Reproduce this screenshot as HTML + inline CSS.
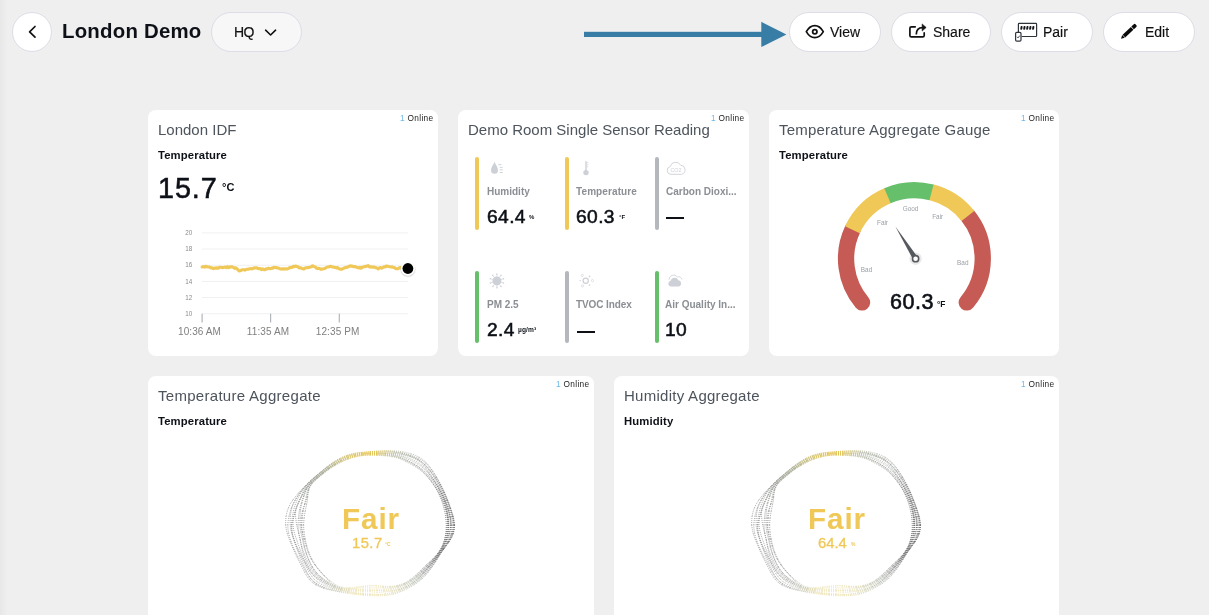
<!DOCTYPE html>
<html><head><meta charset="utf-8"><title>London Demo</title>
<style>
html,body{margin:0;padding:0}
body{width:1209px;height:615px;overflow:hidden;background:#efefef;font-family:"Liberation Sans",sans-serif;position:relative;color:#0d1117}
.abs,.t{position:absolute}
.t{white-space:nowrap;line-height:1;will-change:transform}
.card{position:absolute;background:#fff;border-radius:8px}
.btn{position:absolute;top:12px;height:38px;border:1px solid #dcdde6;border-radius:20px;background:#fff}
.btn .t{font-size:14px;top:12px;color:#111;-webkit-text-stroke:.15px #111}
.ttl{font-size:15px;color:#4e545c}
.sub{font-size:11.3px;font-weight:bold;color:#0d1117;letter-spacing:.13px}
.on{font-size:8.3px;color:#1c1c1c;letter-spacing:.33px}
.on i{font-style:normal;color:#6bb9ea;margin-right:2.6px}
.lbl{font-size:10px;font-weight:bold;color:#8b8e93}
.val{font-size:19.2px;color:#0d1117;-webkit-text-stroke:.55px #0d1117;letter-spacing:.4px}
.unit{font-size:6px;font-weight:bold;color:#0d1117}
.bar{position:absolute;width:4px;height:73px;border-radius:2px}
svg{position:absolute;left:0;top:0;overflow:visible;will-change:transform}
svg text{font-family:"Liberation Sans",sans-serif}
</style></head><body>

<div class="abs" style="left:0;top:0;width:8px;height:615px;background:linear-gradient(to right,rgba(0,0,0,.03),rgba(0,0,0,0))"></div>
<!-- cards -->
<div class="card" style="left:148px;top:110px;width:290px;height:246px"></div>
<div class="card" style="left:458px;top:110px;width:291px;height:246px"></div>
<div class="card" style="left:769px;top:110px;width:290px;height:246px"></div>
<div class="card" style="left:148px;top:376px;width:446px;height:260px"></div>
<div class="card" style="left:614px;top:376px;width:445px;height:260px"></div>

<!-- header -->
<div class="abs" style="left:12px;top:12px;width:38px;height:38px;border:1px solid #dcdde6;border-radius:50%;background:#fff"></div>
<div class="t" id="title" style="left:62.4px;top:21px;font-size:20.4px;font-weight:bold;letter-spacing:.22px;color:#0d1117">London Demo</div>
<div class="abs" style="left:211px;top:12px;width:89px;height:38px;border:1px solid #dcdde6;border-radius:20px;background:#f7f7f7"></div>
<div class="t" style="left:234.3px;top:25.4px;font-size:14px;color:#111;letter-spacing:-.6px;-webkit-text-stroke:.2px #111">HQ</div>

<div class="btn" style="left:789px;width:90px"><div class="t" style="left:40px">View</div></div>
<div class="btn" style="left:891px;width:98px"><div class="t" style="left:40.5px">Share</div></div>
<div class="btn" style="left:1001px;width:90px"><div class="t" style="left:40.7px">Pair</div></div>
<div class="btn" style="left:1103px;width:90px"><div class="t" style="left:40.6px">Edit</div></div>

<!-- card text -->
<div class="t ttl" style="left:158.2px;top:122.3px">London IDF</div>
<div class="t ttl" style="left:468.2px;top:122.3px">Demo Room Single Sensor Reading</div>
<div class="t ttl" style="left:779.2px;top:122.3px;letter-spacing:.21px">Temperature Aggregate Gauge</div>
<div class="t ttl" style="left:158.2px;top:388.3px;letter-spacing:.29px">Temperature Aggregate</div>
<div class="t ttl" style="left:624.2px;top:388.3px;letter-spacing:.27px">Humidity Aggregate</div>

<div class="t sub" style="left:158.2px;top:150.3px">Temperature</div>
<div class="t sub" style="left:779.2px;top:150.3px">Temperature</div>
<div class="t sub" style="left:158.2px;top:415.9px">Temperature</div>
<div class="t sub" style="left:624.2px;top:415.9px">Humidity</div>

<div class="t on" style="right:775.3px;top:114.3px"><i>1</i>Online</div>
<div class="t on" style="right:464.3px;top:114.3px"><i>1</i>Online</div>
<div class="t on" style="right:154.3px;top:114.3px"><i>1</i>Online</div>
<div class="t on" style="right:619.3px;top:380.3px"><i>1</i>Online</div>
<div class="t on" style="right:154.3px;top:380.3px"><i>1</i>Online</div>

<!-- card1 value -->
<div class="t" style="left:158.4px;top:174px;font-size:28.8px;letter-spacing:.9px;-webkit-text-stroke:.55px #0d1117">15.7</div>
<div class="t" style="left:221.6px;top:182.3px;font-size:11px;font-weight:bold">°C</div>

<!-- card2 sensors -->
<div class="bar" style="left:475px;top:157px;background:#efc857"></div>
<div class="bar" style="left:565px;top:157px;background:#efc857"></div>
<div class="bar" style="left:655px;top:157px;background:#b4b7bc"></div>
<div class="bar" style="left:475px;top:271px;height:72px;background:#65bf6b"></div>
<div class="bar" style="left:565px;top:271px;height:72px;background:#b4b7bc"></div>
<div class="bar" style="left:655px;top:271px;height:72px;background:#65bf6b"></div>

<div class="t lbl" style="left:486.6px;top:186.5px">Humidity</div>
<div class="t lbl" style="left:576.4px;top:186.5px;letter-spacing:.1px">Temperature</div>
<div class="t lbl" style="left:665.8px;top:186.5px">Carbon Dioxi...</div>
<div class="t lbl" style="left:486.6px;top:299.6px">PM 2.5</div>
<div class="t lbl" style="left:576.4px;top:299.6px;letter-spacing:-.1px">TVOC Index</div>
<div class="t lbl" style="left:665.4px;top:299.6px">Air Quality In...</div>

<div class="t val" style="left:486.8px;top:207px">64.4</div>
<div class="t val" style="left:576.4px;top:207px">60.3</div>
<div class="t val" style="left:486.8px;top:320px">2.4</div>
<div class="t val" style="left:665.4px;top:320px">10</div>
<div class="abs" style="left:666.3px;top:217px;width:18.2px;height:2px;background:#0d1117"></div>
<div class="abs" style="left:577px;top:330.5px;width:18.2px;height:2px;background:#0d1117;will-change:auto"></div>
<div class="t unit" style="left:529.2px;top:214.3px">%</div>
<div class="t unit" style="left:619.2px;top:214.3px">°F</div>
<div class="t unit" style="left:517.6px;top:327.2px;font-size:6.6px;letter-spacing:.1px">µg/m³</div>

<!-- gauge value -->
<div class="t" style="left:889.8px;top:292px;font-size:21.5px;letter-spacing:.5px;-webkit-text-stroke:.6px #0d1117">60.3</div>
<div class="t" style="left:937px;top:299.9px;font-size:8.4px;font-weight:bold">°F</div>

<!-- blob text -->
<div class="t" style="left:341.8px;top:504.2px;font-size:29.6px;font-weight:bold;color:#efc857;letter-spacing:.95px">Fair</div>
<div class="t" style="left:807.8px;top:504.2px;font-size:29.6px;font-weight:bold;color:#efc857;letter-spacing:.95px">Fair</div>
<div class="t" style="left:352.2px;top:536px;font-size:14.8px;letter-spacing:.45px;color:#efc857;-webkit-text-stroke:.3px #efc857">15.7</div>
<div class="t" style="left:818.2px;top:536px;font-size:14.8px;color:#efc857;-webkit-text-stroke:.3px #efc857">64.4</div>
<div class="t" style="left:385px;top:541.6px;font-size:5px;font-weight:bold;color:#efc857">°C</div>
<div class="t" style="left:851px;top:541.6px;font-size:5px;font-weight:bold;color:#efc857">%</div>

<svg width="1209" height="615" viewBox="0 0 1209 615">
<defs>
<linearGradient id="bg" gradientUnits="userSpaceOnUse" x1="0" y1="450" x2="0" y2="598">
<stop offset="0" stop-color="#e9c64f"/><stop offset=".1" stop-color="#cfc07a"/><stop offset=".25" stop-color="#8c8f8c"/><stop offset=".5" stop-color="#7d7d7d"/><stop offset=".78" stop-color="#9a9c98"/><stop offset=".92" stop-color="#e2d79b"/><stop offset="1" stop-color="#f0dc8a"/>
</linearGradient>
<g id="blob" fill="none" stroke-width="0.72" stroke-dasharray="1 1"><path stroke="#646464" d="M446.3 525.0L446.2 529.0L445.9 533.0M447.4 525.0L446.9 529.0L446.2 533.0M448.1 525.0L447.9 529.1L447.3 533.1M448.5 525.0L448.3 529.1L447.7 533.2M448.9 525.0L448.8 529.1L448.2 533.2M450.9 525.0L450.3 529.2L449.2 533.3M450.6 525.0L450.4 529.2L449.7 533.4M451.6 525.0L451.7 529.3L451.1 533.5M453.0 525.0L452.8 529.3L451.9 533.6M453.9 525.0L453.4 529.4L452.3 533.7M454.3 525.0L454.1 529.4L453.1 533.7M454.6 525.0L454.3 529.4L453.2 533.7"/><path stroke="#676767" d="M445.9 533.0L445.2 536.9L444.3 540.8M446.2 533.0L445.4 536.9L444.3 540.8M447.3 533.1L446.4 537.1L445.2 541.0M447.7 533.2L446.8 537.2L445.5 541.0M448.2 533.2L447.3 537.2L445.9 541.1M449.2 533.3L447.8 537.3L446.1 541.2M449.7 533.4L448.6 537.4L446.9 541.4M451.1 533.5L449.8 537.6L447.9 541.6M451.9 533.6L450.3 537.7L448.1 541.6M452.3 533.7L450.6 537.8L448.4 541.7M453.1 533.7L451.4 537.9L449.1 541.8M453.2 533.7L451.5 537.9L449.1 541.8"/><path stroke="#6a6a6a" d="M444.3 540.8L443.0 544.5L441.2 548.1M444.3 540.8L443.0 544.5L441.2 548.1M445.2 541.0L443.6 544.7L441.7 548.3M445.5 541.0L443.8 544.8L441.9 548.4M445.9 541.1L444.2 544.9L442.2 548.5M446.1 541.2L444.2 544.9L442.1 548.4M446.9 541.4L444.9 545.1L442.7 548.6M447.9 541.6L445.6 545.3L443.2 548.8M448.1 541.6L445.7 545.3L443.2 548.8M448.4 541.7L445.8 545.3L443.4 548.8M449.1 541.8L446.4 545.5L443.8 549.0M449.1 541.8L446.5 545.5L443.9 549.0"/><path stroke="#6c6c6c" d="M441.2 548.1L439.1 551.5L436.7 554.7M441.2 548.1L439.2 551.6L436.9 554.8M441.7 548.3L439.5 551.7L437.2 554.9M441.9 548.4L439.7 551.8L437.4 555.0M442.2 548.5L440.0 551.9L437.7 555.1M442.1 548.4L440.0 551.9L437.7 555.1M442.7 548.6L440.5 552.0L438.2 555.3M443.2 548.8L440.8 552.2L438.4 555.5M443.2 548.8L440.8 552.2L438.5 555.5M443.4 548.8L441.0 552.3L438.7 555.6M443.8 549.0L441.4 552.4L439.1 555.8M443.9 549.0L441.5 552.4L439.2 555.8"/><path stroke="#717171" d="M436.7 554.7L434.1 557.6L431.3 560.4M436.9 554.8L434.3 557.8L431.7 560.6M437.2 554.9L434.7 557.9L432.1 560.8M437.4 555.0L434.9 558.1L432.4 561.0M437.7 555.1L435.3 558.3L432.8 561.3M437.7 555.1L435.3 558.3L432.9 561.3M438.2 555.3L435.8 558.5L433.4 561.6M438.4 555.5L436.0 558.7L433.6 561.7M438.5 555.5L436.1 558.7L433.8 561.8M438.7 555.6L436.5 558.9L434.2 562.1M439.1 555.8L437.0 559.1L434.7 562.4M439.2 555.8L437.2 559.2L435.1 562.6"/><path stroke="#7a7c7a" d="M431.3 560.4L428.4 562.9L425.7 565.4M431.7 560.6L429.0 563.3L426.4 566.0M432.1 560.8L429.4 563.6L426.8 566.2M432.4 561.0L429.8 563.8L427.1 566.5M432.8 561.3L430.3 564.1L427.7 566.9M432.9 561.3L430.5 564.3L428.0 567.2M433.4 561.6L430.9 564.5L428.4 567.4M433.6 561.7L431.0 564.6L428.4 567.4M433.8 561.8L431.3 564.8L428.8 567.8M434.2 562.1L431.9 565.2L429.6 568.3M434.7 562.4L432.4 565.6L430.1 568.6M435.1 562.6L432.9 565.8L430.6 569.0"/><path stroke="#838683" d="M425.7 565.4L423.1 568.0L420.6 570.5M426.4 566.0L423.8 568.6L421.2 571.1M426.8 566.2L424.3 568.9L421.7 571.6M427.1 566.5L424.6 569.2L422.0 571.8M427.7 566.9L425.1 569.7L422.6 572.3M428.0 567.2L425.6 570.0L423.0 572.8M428.4 567.4L425.9 570.3L423.4 573.1M428.4 567.4L425.9 570.3L423.4 573.1M428.8 567.8L426.4 570.7L423.9 573.5M429.6 568.3L427.1 571.3L424.6 574.2M430.1 568.6L427.6 571.6L425.0 574.5M430.6 569.0L428.2 572.2L425.7 575.1"/><path stroke="#979b93" d="M420.6 570.5L418.0 573.0L415.4 575.4M421.2 571.1L418.6 573.6L415.9 575.9M421.7 571.6L419.1 574.1L416.4 576.5M422.0 571.8L419.4 574.4L416.6 576.7M422.6 572.3L419.9 574.9L417.1 577.3M423.0 572.8L420.4 575.4L417.6 577.8M423.4 573.1L420.8 575.8L418.1 578.4M423.4 573.1L420.9 575.9L418.2 578.5M423.9 573.5L421.3 576.3L418.5 578.9M424.6 574.2L421.9 576.9L419.1 579.5M425.0 574.5L422.3 577.3L419.5 580.0M425.7 575.1L423.0 578.0L420.1 580.6"/><path stroke="#acb1a5" d="M415.4 575.4L412.7 577.7L409.8 579.8M415.9 575.9L413.1 578.2L410.2 580.3M416.4 576.5L413.5 578.7L410.5 580.7M416.6 576.7L413.7 579.0L410.7 581.0M417.1 577.3L414.1 579.5L411.1 581.5M417.6 577.8L414.6 580.1L411.6 582.2M418.1 578.4L415.2 580.9L412.2 583.1M418.2 578.5L415.3 581.0L412.3 583.2M418.5 578.9L415.5 581.2L412.4 583.4M419.1 579.5L416.1 581.9L412.9 584.0M419.5 580.0L416.4 582.3L413.2 584.5M420.1 580.6L417.0 583.0L413.7 585.1"/><path stroke="#bfc3b1" d="M409.8 579.8L406.8 581.7L403.7 583.3M410.2 580.3L407.1 582.2L404.0 583.8M410.5 580.7L407.4 582.5L404.1 584.1M410.7 581.0L407.5 582.8L404.3 584.4M411.1 581.5L407.9 583.4L404.7 585.0M411.6 582.2L408.4 584.1L405.1 585.8M412.2 583.1L409.0 585.0L405.7 586.8M412.3 583.2L409.1 585.1L405.7 586.9M412.4 583.4L409.2 585.3L405.8 587.1M412.9 584.0L409.6 585.9L406.2 587.7M413.2 584.5L409.9 586.5L406.5 588.3M413.7 585.1L410.3 587.1L406.9 588.9"/><path stroke="#cdcdb2" d="M403.7 583.3L400.3 584.6L396.9 585.5M404.0 583.8L400.7 585.2L397.2 586.2M404.1 584.1L400.7 585.3L397.3 586.2M404.3 584.4L401.0 585.8L397.5 586.9M404.7 585.0L401.3 586.4L397.9 587.6M405.1 585.8L401.8 587.3L398.3 588.6M405.7 586.8L402.2 588.3L398.7 589.5M405.7 586.9L402.3 588.4L398.8 589.7M405.8 587.1L402.4 588.7L399.0 590.2M406.2 587.7L402.8 589.4L399.3 590.8M406.5 588.3L403.1 590.0L399.7 591.6M406.9 588.9L403.4 590.6L399.9 592.1"/><path stroke="#dbd7b3" d="M396.9 585.5L393.4 586.1L389.9 586.4M397.2 586.2L393.7 586.8L390.2 587.1M397.3 586.2L393.8 586.9L390.2 587.3M397.5 586.9L394.1 587.7L390.6 588.3M397.9 587.6L394.4 588.6L390.9 589.3M398.3 588.6L394.8 589.7L391.2 590.4M398.7 589.5L395.1 590.3L391.4 590.9M398.8 589.7L395.2 590.7L391.6 591.4M399.0 590.2L395.5 591.5L391.9 592.6M399.3 590.8L395.8 592.1L392.1 593.1M399.7 591.6L396.1 593.0L392.4 594.0M399.9 592.1L396.3 593.4L392.6 594.4"/><path stroke="#e4ddb3" d="M389.9 586.4L386.4 586.4L383.0 586.2M390.2 587.1L386.6 587.0L383.1 586.7M390.2 587.3L386.7 587.5L383.3 587.4M390.6 588.3L387.1 588.6L383.6 588.8M390.9 589.3L387.3 589.7L383.8 590.0M391.2 590.4L387.6 590.7L384.0 590.8M391.4 590.9L387.7 591.1L384.0 591.0M391.6 591.4L387.9 591.8L384.3 592.1M391.9 592.6L388.3 593.4L384.7 594.0M392.1 593.1L388.4 593.8L384.7 594.2M392.4 594.0L388.7 594.7L384.9 595.1M392.6 594.4L388.8 595.1L385.0 595.5"/><path stroke="#e9e0b1" d="M383.0 586.2L379.7 586.0L376.4 585.7M383.1 586.7L379.7 586.2L376.4 585.8M383.3 587.4L379.9 587.4L376.5 587.3M383.6 588.8L380.1 588.9L376.7 588.9M383.8 590.0L380.3 590.1L376.8 590.1M384.0 590.8L380.4 590.7L376.9 590.5M384.0 591.0L380.4 591.0L376.9 590.9M384.3 592.1L380.7 592.4L377.1 592.7M384.7 594.0L381.0 594.5L377.3 594.8M384.7 594.2L381.0 594.4L377.3 594.5M384.9 595.1L381.1 595.2L377.4 595.2M385.0 595.5L381.2 595.8L377.4 595.8"/><path stroke="#eee3af" d="M376.4 585.7L373.2 585.6L370.0 585.7M376.4 585.8L373.2 585.6L370.0 585.8M376.5 587.3L373.3 587.3L370.0 587.4M376.7 588.9L373.4 589.0L370.0 589.1M376.8 590.1L373.4 590.2L370.0 590.2M376.9 590.5L373.4 590.3L370.0 590.3M376.9 590.9L373.5 591.1L370.0 591.3M377.1 592.7L373.6 593.0L370.0 593.3M377.3 594.8L373.7 594.9L370.0 594.8M377.3 594.5L373.6 594.5L370.0 594.4M377.4 595.2L373.7 595.1L370.0 595.0M377.4 595.8L373.7 595.8L370.0 595.7"/><path stroke="#efe3ae" d="M370.0 585.7L366.8 585.9L363.6 586.1M370.0 585.8L366.8 586.1L363.5 586.6M370.0 587.4L366.7 587.6L363.4 587.8M370.0 589.1L366.6 589.2L363.3 589.2M370.0 590.2L366.6 590.1L363.2 590.0M370.0 590.3L366.6 590.3L363.1 590.3M370.0 591.3L366.5 591.6L363.0 591.7M370.0 593.3L366.4 593.4L362.8 593.4M370.0 594.8L366.4 594.5L362.7 594.1M370.0 594.4L366.4 594.3L362.7 594.0M370.0 595.0L366.3 594.8L362.7 594.6M370.0 595.7L366.3 595.5L362.6 595.2"/><path stroke="#ece2af" d="M363.6 586.1L360.3 586.5L356.8 586.9M363.5 586.6L360.1 587.3L356.6 588.0M363.4 587.8L360.0 588.0L356.6 588.3M363.3 589.2L359.8 589.3L356.3 589.4M363.2 590.0L359.7 590.0L356.2 589.9M363.1 590.3L359.6 590.5L356.1 590.6M363.0 591.7L359.4 591.8L355.8 591.6M362.8 593.4L359.2 593.2L355.6 592.8M362.7 594.1L359.1 593.5L355.6 593.0M362.7 594.0L359.1 593.8L355.5 593.4M362.7 594.6L359.0 594.4L355.3 594.0M362.6 595.2L358.9 594.9L355.2 594.4"/><path stroke="#e9e0b0" d="M356.8 586.9L353.3 587.3L349.7 587.6M356.6 588.0L353.0 588.5L349.3 588.8M356.6 588.3L353.0 588.5L349.3 588.6M356.3 589.4L352.7 589.4L349.1 589.3M356.2 589.9L352.6 589.8L349.0 589.7M356.1 590.6L352.4 590.6L348.7 590.5M355.8 591.6L352.2 591.3L348.6 590.9M355.6 592.8L352.0 592.3L348.3 591.7M355.6 593.0L352.0 592.4L348.3 591.8M355.5 593.4L351.8 593.0L348.1 592.5M355.3 594.0L351.6 593.6L347.9 593.1M355.2 594.4L351.5 593.9L347.8 593.2"/><path stroke="#ded8b0" d="M349.7 587.6L346.0 587.6L342.3 587.2M349.3 588.8L345.5 588.8L341.8 588.3M349.3 588.6L345.6 588.5L341.9 588.1M349.1 589.3L345.4 589.2L341.7 588.6M349.0 589.7L345.3 589.4L341.6 588.8M348.7 590.5L345.0 590.2L341.2 589.6M348.6 590.9L344.9 590.4L341.2 589.6M348.3 591.7L344.6 591.0L340.9 590.3M348.3 591.8L344.6 591.2L340.8 590.6M348.1 592.5L344.3 592.0L340.4 591.4M347.9 593.1L344.1 592.5L340.2 591.9M347.8 593.2L344.0 592.7L340.2 592.0"/><path stroke="#cac8af" d="M342.3 587.2L338.8 586.2L335.5 584.7M341.8 588.3L338.3 587.2L335.0 585.7M341.9 588.1L338.3 587.2L334.9 585.8M341.7 588.6L338.1 587.7L334.6 586.4M341.6 588.8L338.0 587.9L334.5 586.6M341.2 589.6L337.6 588.6L334.0 587.3M341.2 589.6L337.6 588.6L334.1 587.3M340.9 590.3L337.3 589.3L333.6 588.0M340.8 590.6L337.0 589.7L333.2 588.7M340.4 591.4L336.6 590.6L332.7 589.7M340.2 591.9L336.3 591.1L332.4 590.2M340.2 592.0L336.2 591.2L332.2 590.4"/><path stroke="#b6b9ac" d="M335.5 584.7L332.6 582.6L329.7 580.4M335.0 585.7L332.0 583.6L329.2 581.2M334.9 585.8L331.6 584.1L328.5 582.2M334.6 586.4L331.3 584.6L328.0 582.7M334.5 586.6L331.1 584.9L327.8 583.1M334.0 587.3L330.6 585.7L327.2 583.8M334.1 587.3L330.6 585.7L327.2 583.9M333.6 588.0L330.0 586.5L326.5 584.9M333.2 588.7L329.4 587.5L325.6 586.1M332.7 589.7L328.7 588.7L324.7 587.4M332.4 590.2L328.3 589.2L324.3 587.9M332.2 590.4L328.1 589.5L324.0 588.4"/><path stroke="#a2a59d" d="M329.7 580.4L327.0 578.0L324.5 575.6M329.2 581.2L326.6 578.6L324.1 575.9M328.5 582.2L325.3 580.1L322.3 578.0M328.0 582.7L324.9 580.7L321.9 578.4M327.8 583.1L324.6 581.1L321.4 578.9M327.2 583.8L324.0 581.8L320.8 579.7M327.2 583.9L323.8 582.1L320.3 580.2M326.5 584.9L323.0 583.0L319.6 581.0M325.6 586.1L321.9 584.5L318.2 582.5M324.7 587.4L320.7 585.8L317.0 583.9M324.3 587.9L320.4 586.3L316.6 584.3M324.0 588.4L319.9 586.9L315.9 585.0"/><path stroke="#8f928e" d="M324.5 575.6L321.9 573.1L319.6 570.4M324.1 575.9L321.7 573.3L319.4 570.6M322.3 578.0L319.4 575.6L316.8 572.9M321.9 578.4L319.1 575.9L316.5 573.2M321.4 578.9L318.5 576.5L315.7 573.9M320.8 579.7L317.7 577.3L314.9 574.6M320.3 580.2L317.0 578.0L314.0 575.4M319.6 581.0L316.5 578.5L313.6 575.8M318.2 582.5L315.0 580.0L312.3 577.0M317.0 583.9L313.6 581.4L310.8 578.3M316.6 584.3L313.3 581.7L310.4 578.6M315.9 585.0L312.4 582.6L309.4 579.6"/><path stroke="#8f918e" d="M319.6 570.4L317.3 567.7L315.3 564.8M319.4 570.6L317.1 567.8L314.9 565.0M316.8 572.9L314.4 570.0L312.4 566.9M316.5 573.2L314.2 570.2L312.2 567.0M315.7 573.9L313.3 570.9L311.1 567.8M314.9 574.6L312.3 571.7L310.0 568.6M314.0 575.4L311.3 572.5L309.0 569.3M313.6 575.8L311.1 572.7L309.0 569.3M312.3 577.0L309.9 573.7L307.9 570.1M310.8 578.3L308.4 574.9L306.4 571.2M310.4 578.6L308.0 575.2L305.9 571.6M309.4 579.6L306.8 576.1L304.7 572.4"/><path stroke="#8f918e" d="M315.3 564.8L313.4 561.8L311.7 558.7M314.9 565.0L312.9 562.1L311.1 559.0M312.4 566.9L310.6 563.6L309.0 560.2M312.2 567.0L310.4 563.7L308.8 560.3M311.1 567.8L309.2 564.5L307.4 561.1M310.0 568.6L308.0 565.3L306.2 561.8M309.0 569.3L307.0 565.9L305.3 562.4M309.0 569.3L307.0 565.9L305.1 562.5M307.9 570.1L306.1 566.5L304.3 562.9M306.4 571.2L304.7 567.4L303.0 563.7M305.9 571.6L303.9 567.9L302.0 564.3M304.7 572.4L302.8 568.6L300.9 564.9"/><path stroke="#8f908e" d="M311.7 558.7L310.2 555.5L308.8 552.2M311.1 559.0L309.5 555.8L308.2 552.5M309.0 560.2L307.6 556.8L306.4 553.3M308.8 560.3L307.4 556.9L306.1 553.5M307.4 561.1L305.8 557.7L304.4 554.2M306.2 561.8L304.7 558.3L303.4 554.6M305.3 562.4L303.6 558.8L302.2 555.2M305.1 562.5L303.2 559.0L301.4 555.6M304.3 562.9L302.5 559.4L300.8 555.8M303.0 563.7L301.4 560.0L299.8 556.2M302.0 564.3L300.1 560.6L298.1 557.0M300.9 564.9L299.0 561.2L297.2 557.4"/><path stroke="#8e908e" d="M308.8 552.2L307.6 548.9L306.7 545.6M308.2 552.5L307.0 549.2L306.0 545.8M306.4 553.3L305.4 549.8L304.5 546.3M306.1 553.5L305.0 550.0L304.0 546.4M304.4 554.2L303.1 550.7L301.9 547.1M303.4 554.6L302.4 551.0L301.6 547.2M302.2 555.2L300.8 551.6L299.5 547.9M301.4 555.6L299.5 552.0L297.8 548.5M300.8 555.8L299.0 552.2L297.4 548.6M299.8 556.2L298.3 552.5L296.9 548.8M298.1 557.0L296.2 553.3L294.4 549.6M297.2 557.4L295.3 553.7L293.6 549.8"/><path stroke="#8e8f8e" d="M306.7 545.6L305.9 542.2L305.2 538.8M306.0 545.8L305.1 542.4L304.3 539.0M304.5 546.3L303.9 542.7L303.3 539.2M304.0 546.4L303.2 542.9L302.5 539.4M301.9 547.1L301.0 543.5L300.2 539.8M301.6 547.2L300.9 543.5L300.3 539.8M299.5 547.9L298.2 544.2L296.9 540.5M297.8 548.5L296.1 544.8L294.6 541.0M297.4 548.6L295.9 544.9L294.5 541.1M296.9 548.8L295.5 545.0L294.2 541.1M294.4 549.6L292.7 545.7L291.2 541.7M293.6 549.8L291.9 545.9L290.3 541.9"/><path stroke="#8e8f8e" d="M305.2 538.8L304.5 535.4L304.0 531.9M304.3 539.0L303.4 535.6L302.4 532.1M303.3 539.2L302.7 535.7L302.2 532.1M302.5 539.4L301.6 535.8L300.9 532.3M300.2 539.8L299.3 536.2L298.7 532.5M300.3 539.8L299.5 536.2L298.5 532.5M296.9 540.5L295.6 536.8L294.4 532.9M294.6 541.0L293.3 537.2L292.3 533.2M294.5 541.1L293.2 537.2L292.2 533.2M294.2 541.1L292.9 537.2L291.7 533.2M291.2 541.7L289.8 537.7L288.7 533.5M290.3 541.9L288.7 537.9L287.3 533.7"/><path stroke="#8e8e8e" d="M304.0 531.9L303.7 528.5L303.6 525.0M302.4 532.1L301.6 528.6L301.1 525.0M302.2 532.1L301.9 528.6L301.8 525.0M300.9 532.3L300.3 528.7L300.0 525.0M298.7 532.5L298.2 528.8L298.0 525.0M298.5 532.5L297.6 528.8L296.7 525.0M294.4 532.9L293.5 529.0L293.0 525.0M292.3 533.2L291.8 529.1L291.9 525.0M292.2 533.2L291.6 529.1L291.5 525.0M291.7 533.2L290.7 529.2L290.2 525.0M288.7 533.5L288.0 529.3L287.8 525.0M287.3 533.7L286.3 529.4L285.7 525.0"/><path stroke="#8e8e8d" d="M303.6 525.0L303.8 521.5L304.1 518.1M301.1 525.0L301.0 521.4L301.2 517.8M301.8 525.0L302.0 521.4L302.3 517.9M300.0 525.0L299.9 521.3L300.0 517.6M298.0 525.0L298.2 521.2L298.5 517.5M296.7 525.0L296.1 521.1L295.6 517.2M293.0 525.0L293.1 521.0L293.6 517.0M291.9 525.0L292.6 520.9L293.7 517.0M291.5 525.0L291.8 520.9L292.3 516.8M290.2 525.0L290.1 520.8L290.3 516.6M287.8 525.0L288.2 520.7L288.9 516.5M285.7 525.0L285.7 520.6L286.1 516.2"/><path stroke="#8d8e8c" d="M304.1 518.1L304.6 514.6L305.2 511.2M301.2 517.8L301.7 514.2L302.5 510.7M302.3 517.9L302.7 514.3L303.2 510.8M300.0 517.6L300.1 513.9L300.5 510.2M298.5 517.5L298.9 513.7L299.5 510.0M295.6 517.2L295.5 513.2L295.9 509.2M293.6 517.0L294.5 513.0L295.7 509.2M293.7 517.0L294.8 513.1L296.1 509.3M292.3 516.8L293.1 512.8L294.0 508.8M290.3 516.6L290.8 512.5L291.7 508.4M288.9 516.5L289.9 512.3L291.2 508.2M286.1 516.2L287.0 511.9L288.5 507.7"/><path stroke="#8c8e8b" d="M305.2 511.2L305.9 507.8L306.6 504.4M302.5 510.7L303.7 507.2L305.0 503.9M303.2 510.8L303.9 507.3L304.7 503.8M300.5 510.2L301.1 506.5L302.0 502.9M299.5 510.0L300.4 506.4L301.4 502.7M295.9 509.2L296.9 505.4L298.5 501.8M295.7 509.2L297.3 505.5L299.0 501.9M296.1 509.3L297.5 505.6L298.9 501.9M294.0 508.8L295.2 504.9L296.6 501.2M291.7 508.4L293.1 504.4L295.0 500.6M291.2 508.2L292.9 504.3L294.8 500.6M288.5 507.7L290.5 503.7L292.9 499.9"/><path stroke="#8b8f89" d="M306.6 504.4L307.3 500.9L307.7 497.3M305.0 503.9L306.2 500.5L307.2 497.0M304.7 503.8L305.5 500.3L306.3 496.6M302.0 502.9L303.0 499.3L304.2 495.7M301.4 502.7L302.6 499.1L303.8 495.5M298.5 501.8L300.4 498.3L302.4 494.9M299.0 501.9L300.8 498.4L302.5 495.0M298.9 501.9L300.3 498.3L301.8 494.7M296.6 501.2L298.3 497.5L300.2 493.9M295.0 500.6L297.1 497.0L299.5 493.6M294.8 500.6L297.0 497.0L299.3 493.5M292.9 499.9L295.6 496.4L298.4 493.1"/><path stroke="#8b8f88" d="M307.7 497.3L308.0 493.4L308.8 489.7M307.2 497.0L307.8 493.3L308.7 489.6M306.3 496.6L306.9 492.9L308.1 489.2M304.2 495.7L305.4 492.1L307.0 488.6M303.8 495.5L305.1 491.9L306.8 488.5M302.4 494.9L304.3 491.5L306.4 488.3M302.5 495.0L304.2 491.5L306.1 488.1M301.8 494.7L303.5 491.1L305.5 487.7M300.2 493.9L302.4 490.6L304.8 487.4M299.5 493.6L302.0 490.3L304.6 487.2M299.3 493.5L301.7 490.2L304.3 487.1M298.4 493.1L301.3 490.0L304.2 487.0"/><path stroke="#8b9087" d="M308.8 489.7L310.2 486.2L312.4 483.1M308.7 489.6L310.2 486.1L312.3 483.1M308.1 489.2L309.7 485.8L312.0 482.8M307.0 488.6L309.0 485.4L311.5 482.5M306.8 488.5L308.8 485.3L311.3 482.3M306.4 488.3L308.7 485.2L311.2 482.3M306.1 488.1L308.4 485.0L310.9 482.1M305.5 487.7L307.8 484.6L310.5 481.7M304.8 487.4L307.4 484.4L310.2 481.5M304.6 487.2L307.3 484.3L310.1 481.5M304.3 487.1L307.1 484.1L309.9 481.3M304.2 487.0L307.1 484.1L309.9 481.4"/><path stroke="#939789" d="M312.4 483.1L315.1 480.5L317.9 478.1M312.3 483.1L315.0 480.4L317.7 477.9M312.0 482.8L314.7 480.2L317.5 477.7M311.5 482.5L314.3 479.9L317.2 477.5M311.3 482.3L314.1 479.7L317.0 477.3M311.2 482.3L314.1 479.7L316.9 477.2M310.9 482.1L313.8 479.5L316.7 477.0M310.5 481.7L313.3 479.1L316.2 476.6M310.2 481.5L313.1 478.9L316.0 476.4M310.1 481.5L313.0 478.8L315.9 476.3M309.9 481.3L312.8 478.7L315.7 476.1M309.9 481.4L312.9 478.7L315.8 476.2"/><path stroke="#9a9e8a" d="M317.9 478.1L320.8 475.8L323.6 473.5M317.7 477.9L320.5 475.5L323.3 473.2M317.5 477.7L320.3 475.3L323.2 473.0M317.2 477.5L320.1 475.1L323.1 472.9M317.0 477.3L319.9 474.9L322.8 472.6M316.9 477.2L319.8 474.8L322.7 472.5M316.7 477.0L319.6 474.6L322.6 472.3M316.2 476.6L319.2 474.2L322.2 471.9M316.0 476.4L319.0 474.0L321.9 471.6M315.9 476.3L318.9 473.9L321.8 471.5M315.7 476.1L318.6 473.6L321.6 471.2M315.8 476.2L318.7 473.7L321.6 471.3"/><path stroke="#a2a58c" d="M323.6 473.5L326.5 471.2L329.4 469.1M323.3 473.2L326.2 470.9L329.1 468.7M323.2 473.0L326.0 470.6L328.9 468.4M323.1 472.9L326.0 470.6L329.0 468.5M322.8 472.6L325.7 470.3L328.7 468.1M322.7 472.5L325.6 470.1L328.5 467.9M322.6 472.3L325.5 470.0L328.5 467.9M322.2 471.9L325.1 469.6L328.1 467.4M321.9 471.6L324.8 469.2L327.8 467.0M321.8 471.5L324.7 469.1L327.7 466.8M321.6 471.2L324.5 468.8L327.5 466.5M321.6 471.3L324.5 468.8L327.5 466.4"/><path stroke="#afad84" d="M329.4 469.1L332.4 467.1L335.5 465.2M329.1 468.7L332.2 466.7L335.3 464.9M328.9 468.4L331.9 466.3L335.0 464.3M329.0 468.5L332.0 466.5L335.1 464.6M328.7 468.1L331.7 466.1L334.9 464.1M328.5 467.9L331.6 465.8L334.7 463.9M328.5 467.9L331.5 465.8L334.7 463.8M328.1 467.4L331.2 465.3L334.4 463.3M327.8 467.0L330.9 464.8L334.1 462.8M327.7 466.8L330.8 464.6L333.9 462.5M327.5 466.5L330.6 464.3L333.8 462.3M327.5 466.4L330.5 464.2L333.6 462.0"/><path stroke="#beb67b" d="M335.5 465.2L338.6 463.4L341.8 461.7M335.3 464.9L338.5 463.2L341.8 461.6M335.0 464.3L338.1 462.5L341.4 460.7M335.1 464.6L338.3 462.8L341.5 461.0M334.9 464.1L338.0 462.3L341.3 460.6M334.7 463.9L337.9 462.0L341.2 460.3M334.7 463.8L337.8 461.9L341.1 460.0M334.4 463.3L337.5 461.3L340.8 459.5M334.1 462.8L337.3 460.8L340.6 459.1M333.9 462.5L337.2 460.6L340.5 458.8M333.8 462.3L337.0 460.3L340.4 458.5M333.6 462.0L336.9 460.0L340.2 458.1"/><path stroke="#cdbf72" d="M341.8 461.7L345.1 460.2L348.5 458.9M341.8 461.6L345.1 460.2L348.5 458.9M341.4 460.7L344.7 459.2L348.2 457.9M341.5 461.0L344.8 459.4L348.2 458.0M341.3 460.6L344.7 459.0L348.1 457.6M341.2 460.3L344.5 458.7L348.0 457.3M341.1 460.0L344.4 458.3L347.8 456.8M340.8 459.5L344.2 457.8L347.7 456.4M340.6 459.1L344.1 457.5L347.6 456.2M340.5 458.8L344.0 457.1L347.5 455.7M340.4 458.5L343.9 456.9L347.4 455.5M340.2 458.1L343.7 456.4L347.3 455.1"/><path stroke="#d8c162" d="M348.5 458.9L352.0 457.7L355.5 456.8M348.5 458.9L352.0 457.7L355.5 456.7M348.2 457.9L351.7 456.8L355.3 456.0M348.2 458.0L351.7 456.8L355.3 455.8M348.1 457.6L351.6 456.5L355.2 455.6M348.0 457.3L351.6 456.2L355.2 455.2M347.8 456.8L351.4 455.6L355.1 454.7M347.7 456.4L351.3 455.2L355.0 454.4M347.6 456.2L351.3 455.2L355.0 454.4M347.5 455.7L351.2 454.7L354.9 453.8M347.4 455.5L351.1 454.3L354.8 453.5M347.3 455.1L351.0 454.0L354.7 453.2"/><path stroke="#e2c252" d="M355.5 456.8L359.1 456.1L362.7 455.6M355.5 456.7L359.1 455.9L362.7 455.3M355.3 456.0L359.0 455.4L362.6 455.0M355.3 455.8L358.9 455.1L362.6 454.5M355.2 455.6L358.9 454.9L362.6 454.4M355.2 455.2L358.8 454.5L362.5 454.0M355.1 454.7L358.8 454.0L362.5 453.6M355.0 454.4L358.7 453.8L362.5 453.5M355.0 454.4L358.7 453.9L362.5 453.5M354.9 453.8L358.6 453.2L362.4 452.8M354.8 453.5L358.6 452.9L362.4 452.4M354.7 453.2L358.5 452.7L362.4 452.3"/><path stroke="#e4c24f" d="M362.7 455.6L366.3 455.3L370.0 455.2M362.7 455.3L366.3 454.9L370.0 454.7M362.6 455.0L366.3 454.8L370.0 454.6M362.6 454.5L366.3 454.2L370.0 453.9M362.6 454.4L366.3 454.0L370.0 453.8M362.5 454.0L366.3 453.6L370.0 453.4M362.5 453.6L366.2 453.3L370.0 453.1M362.5 453.5L366.2 453.2L370.0 453.1M362.5 453.5L366.2 453.2L370.0 452.9M362.4 452.8L366.2 452.5L370.0 452.2M362.4 452.4L366.2 452.1L370.0 451.7M362.4 452.3L366.2 451.9L370.0 451.6"/><path stroke="#e1c254" d="M370.0 455.2L373.7 455.2L377.3 455.3M370.0 454.7L373.7 454.6L377.4 454.7M370.0 454.6L373.7 454.7L377.4 454.8M370.0 453.9L373.7 453.8L377.5 453.9M370.0 453.8L373.7 453.7L377.5 453.7M370.0 453.4L373.8 453.3L377.5 453.2M370.0 453.1L373.8 453.0L377.6 453.1M370.0 453.1L373.8 453.0L377.6 453.0M370.0 452.9L373.8 452.7L377.6 452.5M370.0 452.2L373.8 452.0L377.7 451.8M370.0 451.7L373.9 451.5L377.7 451.3M370.0 451.6L373.9 451.4L377.8 451.1"/><path stroke="#d2c06f" d="M377.3 455.3L381.0 455.5L384.7 455.8M377.4 454.7L381.1 454.8L384.9 455.1M377.4 454.8L381.1 454.9L384.8 455.1M377.5 453.9L381.3 454.0L385.0 454.2M377.5 453.7L381.3 453.8L385.1 453.9M377.5 453.2L381.4 453.3L385.2 453.4M377.6 453.1L381.4 453.1L385.3 453.2M377.6 453.0L381.4 453.0L385.3 453.0M377.6 452.5L381.5 452.3L385.5 452.2M377.7 451.8L381.6 451.7L385.6 451.6M377.7 451.3L381.7 451.1L385.7 451.1M377.8 451.1L381.7 450.9L385.8 450.7"/><path stroke="#c2bb88" d="M384.7 455.8L388.4 456.2L392.2 456.7M384.9 455.1L388.6 455.5L392.4 456.1M384.8 455.1L388.6 455.5L392.5 455.9M385.0 454.2L388.9 454.6L392.7 455.2M385.1 453.9L389.0 454.2L392.9 454.7M385.2 453.4L389.1 453.7L393.0 454.1M385.3 453.2L389.2 453.3L393.2 453.5M385.3 453.0L389.3 453.1L393.3 453.3M385.5 452.2L389.5 452.2L393.6 452.4M385.6 451.6L389.6 451.8L393.7 452.1M385.7 451.1L389.8 451.3L393.9 451.6M385.8 450.7L389.9 450.7L394.1 450.9"/><path stroke="#b1b49f" d="M392.2 456.7L395.9 457.5L399.6 458.6M392.4 456.1L396.1 456.9L399.8 458.0M392.5 455.9L396.3 456.6L400.0 457.6M392.7 455.2L396.5 456.0L400.2 457.2M392.9 454.7L396.7 455.4L400.6 456.4M393.0 454.1L397.0 454.8L400.9 455.7M393.2 453.5L397.3 453.9L401.4 454.6M393.3 453.3L397.4 453.6L401.5 454.2M393.6 452.4L397.7 452.7L401.9 453.4M393.7 452.1L397.8 452.6L401.9 453.3M393.9 451.6L398.0 452.1L402.1 452.8M394.1 450.9L398.3 451.2L402.6 451.8"/><path stroke="#a9aea0" d="M399.6 458.6L403.1 460.1L406.5 461.8M399.8 458.0L403.4 459.4L406.9 461.1M400.0 457.6L403.7 458.9L407.3 460.5M400.2 457.2L403.8 458.7L407.3 460.4M400.6 456.4L404.3 457.6L408.0 459.2M400.9 455.7L404.8 456.8L408.6 458.1M401.4 454.6L405.4 455.4L409.5 456.6M401.5 454.2L405.6 455.1L409.7 456.2M401.9 453.4L406.0 454.4L410.0 455.7M401.9 453.3L406.0 454.4L410.0 455.7M402.1 452.8L406.3 453.8L410.4 455.0M402.6 451.8L406.8 452.7L411.1 453.8"/><path stroke="#a3a89d" d="M406.5 461.8L409.9 463.6L413.3 465.5M406.9 461.1L410.4 462.8L413.8 464.7M407.3 460.5L410.8 462.2L414.2 464.1M407.3 460.4L410.8 462.2L414.2 464.2M408.0 459.2L411.7 460.8L415.3 462.7M408.6 458.1L412.4 459.7L416.2 461.5M409.5 456.6L413.5 458.1L417.2 460.0M409.7 456.2L413.7 457.6L417.6 459.5M410.0 455.7L413.9 457.4L417.7 459.3M410.0 455.7L414.0 457.3L417.8 459.2M410.4 455.0L414.5 456.4L418.5 458.2M411.1 453.8L415.3 455.3L419.2 457.2"/><path stroke="#9da19a" d="M413.3 465.5L416.6 467.5L419.8 469.7M413.8 464.7L417.1 466.8L420.3 469.2M414.2 464.1L417.6 466.2L420.8 468.6M414.2 464.2L417.6 466.2L420.9 468.4M415.3 462.7L418.8 464.7L422.1 467.1M416.2 461.5L419.7 463.7L422.9 466.3M417.2 460.0L420.7 462.4L423.7 465.3M417.6 459.5L421.2 461.8L424.4 464.6M417.7 459.3L421.3 461.7L424.5 464.4M417.8 459.2L421.4 461.5L424.7 464.2M418.5 458.2L422.3 460.4L425.7 463.1M419.2 457.2L422.9 459.7L426.2 462.6"/><path stroke="#979b97" d="M419.8 469.7L422.8 472.2L425.7 474.9M420.3 469.2L423.1 471.9L425.8 474.7M420.8 468.6L423.7 471.3L426.5 474.1M420.9 468.4L424.1 470.9L427.0 473.7M422.1 467.1L425.2 469.8L428.0 472.8M422.9 466.3L425.7 469.3L428.3 472.5M423.7 465.3L426.4 468.6L428.9 472.0M424.4 464.6L427.2 467.8L429.9 471.1M424.5 464.4L427.4 467.6L430.2 470.8M424.7 464.2L427.7 467.3L430.4 470.6M425.7 463.1L428.7 466.3L431.4 469.7M426.2 462.6L429.1 465.9L431.7 469.5"/><path stroke="#8e918e" d="M425.7 474.9L428.3 477.8L430.8 480.8M425.8 474.7L428.4 477.7L430.8 480.8M426.5 474.1L429.1 477.1L431.6 480.2M427.0 473.7L429.8 476.6L432.4 479.6M428.0 472.8L430.7 475.9L433.1 479.1M428.3 472.5L430.7 475.9L433.0 479.3M428.9 472.0L431.2 475.4L433.5 478.9M429.9 471.1L432.3 474.5L434.6 478.1M430.2 470.8L432.7 474.2L435.1 477.7M430.4 470.6L433.0 474.0L435.4 477.5M431.4 469.7L433.9 473.3L436.2 476.9M431.7 469.5L434.1 473.1L436.4 476.8"/><path stroke="#858785" d="M430.8 480.8L433.1 484.0L435.3 487.3M430.8 480.8L433.1 484.0L435.3 487.3M431.6 480.2L434.0 483.5L436.1 486.8M432.4 479.6L434.9 482.9L437.1 486.2M433.1 479.1L435.5 482.5L437.6 486.0M433.0 479.3L435.2 482.7L437.3 486.1M433.5 478.9L435.7 482.3L437.8 485.8M434.6 478.1L436.8 481.6L438.8 485.3M435.1 477.7L437.3 481.3L439.4 484.9M435.4 477.5L437.7 481.1L439.8 484.7M436.2 476.9L438.3 480.6L440.3 484.4M436.4 476.8L438.5 480.5L440.6 484.2"/><path stroke="#7c7c7c" d="M435.3 487.3L437.2 490.7L439.0 494.3M435.3 487.3L437.5 490.6L439.4 494.1M436.1 486.8L438.2 490.3L440.0 493.8M437.1 486.2L439.2 489.7L441.0 493.4M437.6 486.0L439.5 489.6L441.3 493.3M437.3 486.1L439.3 489.7L441.3 493.3M437.8 485.8L439.8 489.4L441.7 493.1M438.8 485.3L440.7 489.0L442.4 492.8M439.4 484.9L441.4 488.6L443.1 492.4M439.8 484.7L441.8 488.4L443.7 492.2M440.3 484.4L442.2 488.2L443.9 492.1M440.6 484.2L442.5 488.1L444.3 491.9"/><path stroke="#737373" d="M439.0 494.3L440.6 497.9L442.0 501.6M439.4 494.1L441.2 497.7L442.9 501.3M440.0 493.8L441.7 497.5L443.2 501.2M441.0 493.4L442.7 497.1L444.2 500.9M441.3 493.3L442.9 497.0L444.3 500.9M441.3 493.3L443.2 496.9L444.9 500.7M441.7 493.1L443.5 496.8L445.0 500.6M442.4 492.8L443.9 496.6L445.4 500.5M443.1 492.4L444.8 496.3L446.3 500.2M443.7 492.2L445.5 496.0L447.1 499.9M443.9 492.1L445.6 496.0L447.1 499.9M444.3 491.9L446.0 495.8L447.6 499.8"/><path stroke="#6f6f6f" d="M442.0 501.6L443.2 505.4L444.2 509.2M442.9 501.3L444.3 505.1L445.6 508.9M443.2 501.2L444.6 505.0L445.7 508.9M444.2 500.9L445.4 504.8L446.5 508.7M444.3 500.9L445.5 504.8L446.6 508.7M444.9 500.7L446.5 504.5L448.0 508.4M445.0 500.6L446.5 504.5L447.7 508.5M445.4 500.5L446.7 504.5L447.9 508.4M446.3 500.2L447.7 504.2L449.0 508.2M447.1 499.9L448.7 503.9L450.1 508.0M447.1 499.9L448.6 503.9L450.0 508.0M447.6 499.8L449.1 503.8L450.5 507.9"/><path stroke="#6a6a6a" d="M444.2 509.2L445.1 513.1L445.7 517.0M445.6 508.9L446.6 512.9L447.2 516.9M445.7 508.9L446.7 512.9L447.5 516.9M446.5 508.7L447.4 512.7L448.0 516.8M446.6 508.7L447.5 512.7L448.2 516.8M448.0 508.4L449.3 512.4L450.3 516.6M447.7 508.5L448.8 512.5L449.7 516.6M447.9 508.4L449.1 512.5L450.1 516.6M449.0 508.2L450.3 512.3L451.5 516.4M450.1 508.0L451.5 512.1L452.7 516.3M450.0 508.0L451.4 512.1L452.6 516.3M450.5 507.9L451.9 512.0L453.2 516.3"/><path stroke="#656565" d="M445.7 517.0L446.1 521.0L446.3 525.0M447.2 516.9L447.5 520.9L447.4 525.0M447.5 516.9L447.9 520.9L448.1 525.0M448.0 516.8L448.4 520.9L448.5 525.0M448.2 516.8L448.7 520.9L448.9 525.0M450.3 516.6L450.8 520.8L450.9 525.0M449.7 516.6L450.3 520.8L450.6 525.0M450.1 516.6L451.0 520.8L451.6 525.0M451.5 516.4L452.4 520.7L453.0 525.0M452.7 516.3L453.5 520.6L453.9 525.0M452.6 516.3L453.6 520.6L454.3 525.0M453.2 516.3L454.1 520.6L454.6 525.0"/></g>
</defs>

<!-- back chevron -->
<path d="M35 26.5L29.6 31.8L35 37.1" fill="none" stroke="#111" stroke-width="1.7" stroke-linecap="round" stroke-linejoin="round"/>
<!-- HQ chevron -->
<path d="M265.6 30.2L270.6 35L275.6 30.2" fill="none" stroke="#111" stroke-width="1.6" stroke-linecap="round" stroke-linejoin="round"/>
<!-- arrow -->
<rect x="584" y="31.8" width="179" height="5.2" fill="#377da6"/>
<path d="M761.3 21.8L786.4 34.4L761.3 47Z" fill="#377da6"/>

<!-- eye -->
<g fill="none" stroke="#111" stroke-width="1.7" stroke-linejoin="round">
<path d="M806.3 31.7C809 27 812 25.7 814.8 25.7C817.600 25.7 820.6 27 823.3 31.7C820.6 36.4 817.6 37.7 814.8 37.7C812 37.7 809 36.4 806.3 31.7Z"/>
<circle cx="814.8" cy="31.7" r="2.15" stroke-width="1.8"/>
</g>
<!-- share -->
<g fill="none" stroke="#111" stroke-width="1.7" stroke-linecap="round">
<path d="M915.2 26.8H911.4Q909.9 26.8 909.9 28.3V35.4Q909.9 36.9 911.4 36.9H922.7Q924.2 36.9 924.2 35.4V32.9"/>
<path d="M916.3 34.5C916.3 30.5 918.5 27.700 922.6 27.700" stroke-linecap="butt"/>
</g>
<path d="M922.1 23.9L926.2 27.5L922.1 31.1Z" fill="#111" stroke="#111" stroke-width=".5" stroke-linejoin="round"/>
<!-- pair -->
<g fill="none" stroke="#2f343a" stroke-width="1.2">
<path d="M1018.4 32.2V24.2Q1018.4 23.4 1019.2 23.4H1035.8Q1036.600 23.4 1036.600 24.2V35.7Q1036.600 36.5 1035.8 36.5H1021.6"/>
<rect x="1015.6" y="32.4" width="5.4" height="8.8" rx="1.2"/>
<path d="M1017 36.8L1018 37.9L1019.800 35.600" stroke-width="0.9"/>
</g>
<g fill="#15181c"><rect x="1020.40" y="26.1" width="2" height="3.6" rx=".8" transform="skewX(-8)" style="transform-origin:1021.40px 28px"/><rect x="1023.35" y="26.1" width="2" height="3.6" rx=".8" transform="skewX(-8)" style="transform-origin:1024.35px 28px"/><rect x="1026.30" y="26.1" width="2" height="3.6" rx=".8" transform="skewX(-8)" style="transform-origin:1027.30px 28px"/><rect x="1029.25" y="26.1" width="2" height="3.6" rx=".8" transform="skewX(-8)" style="transform-origin:1030.25px 28px"/><rect x="1032.20" y="26.1" width="2" height="3.6" rx=".8" transform="skewX(-8)" style="transform-origin:1033.20px 28px"/></g>
<!-- edit pencil -->
<g transform="translate(1121 38.8) rotate(-43.2)" fill="#0a0a0a"><path d="M0 0L3.4 -1.85V1.85Z"/><rect x="4" y="-1.85" width="11.300" height="3.700"/><path d="M15.9 -1.85H19.300Q20.5 -1.85 20.5 -.65V.65Q20.5 1.85 19.300 1.85H15.9Z"/></g>

<!-- line chart -->
<rect x="202" y="232.4" width="206" height="1" fill="#f0f0f0"/><rect x="202" y="248.55" width="206" height="1" fill="#f0f0f0"/><rect x="202" y="264.7" width="206" height="1" fill="#f0f0f0"/><rect x="202" y="280.9" width="206" height="1" fill="#f0f0f0"/><rect x="202" y="297.05" width="206" height="1" fill="#f0f0f0"/><rect x="202" y="313.2" width="206" height="1" fill="#f0f0f0"/>
<text x="192.3" y="235.1" text-anchor="end" font-size="6.3" fill="#8b8b8b">20</text><text x="192.3" y="251.25" text-anchor="end" font-size="6.3" fill="#8b8b8b">18</text><text x="192.3" y="267.4" text-anchor="end" font-size="6.3" fill="#8b8b8b">16</text><text x="192.3" y="283.59999999999997" text-anchor="end" font-size="6.3" fill="#8b8b8b">14</text><text x="192.3" y="299.75" text-anchor="end" font-size="6.3" fill="#8b8b8b">12</text><text x="192.3" y="315.9" text-anchor="end" font-size="6.3" fill="#8b8b8b">10</text>
<rect x="201.5" y="313.7" width="1.2" height="8.8" fill="#b3b6bc"/><rect x="270.0" y="313.7" width="1.2" height="8.8" fill="#b3b6bc"/><rect x="338.7" y="313.7" width="1.2" height="8.8" fill="#b3b6bc"/>
<text x="178" y="334.9" font-size="10" letter-spacing=".1" fill="#7f7f7f">10:36 AM</text><text x="246.8" y="334.9" font-size="10" letter-spacing=".1" fill="#7f7f7f">11:35 AM</text><text x="315.8" y="334.9" font-size="10" letter-spacing=".1" fill="#7f7f7f">12:35 PM</text>
<path d="M202.1 266.9L203.3 266.6L204.6 267.1L205.8 266.3L207.1 266.7L208.4 267.0L209.7 267.1L211.0 268.0L212.3 267.9L213.6 268.7L214.8 268.1L215.9 267.9L217.1 268.1L218.2 268.3L219.4 267.3L220.6 267.2L221.7 267.5L222.9 267.6L224.1 267.2L225.2 267.0L226.4 267.7L227.6 266.7L228.7 267.6L229.9 267.0L231.0 266.9L232.2 266.9L233.4 267.4L234.6 268.3L235.7 267.9L236.9 268.7L238.1 270.0L239.3 270.9L240.4 270.8L241.5 270.1L242.6 269.8L243.8 269.8L244.9 270.1L246.0 269.5L247.1 269.2L248.3 269.3L249.4 268.9L250.6 268.5L251.8 268.9L252.9 268.6L254.1 267.8L255.2 268.0L256.4 267.7L257.6 268.4L258.9 268.6L260.1 268.5L261.4 269.6L262.6 268.9L263.9 269.6L265.0 269.7L266.1 268.8L267.2 269.0L268.3 268.2L269.4 268.7L270.6 268.6L271.7 268.1L272.8 268.2L273.9 267.3L275.0 267.5L276.1 267.6L277.2 267.9L278.4 268.0L279.5 268.6L280.6 269.0L281.8 268.7L282.9 269.1L284.0 268.7L285.1 269.1L286.3 268.8L287.4 268.9L288.6 268.4L289.8 267.6L290.9 267.4L292.1 267.4L293.2 266.4L294.4 266.6L295.5 266.0L296.8 266.4L298.0 266.8L299.2 268.0L300.5 267.7L301.8 268.3L303.0 268.9L304.2 269.0L305.4 267.8L306.6 267.8L307.8 267.6L309.0 267.5L310.2 267.1L311.4 266.8L312.6 265.8L313.8 266.4L315.1 266.9L316.3 268.0L317.5 268.6L318.7 268.3L320.0 268.8L321.2 269.4L322.4 269.0L323.6 268.8L324.8 268.5L326.0 267.7L327.3 267.0L328.5 267.0L329.7 266.5L330.9 266.3L332.0 267.0L333.2 267.0L334.3 267.2L335.4 267.6L336.6 267.9L337.7 267.6L338.8 268.8L340.0 269.0L341.1 269.4L342.3 269.0L343.6 268.2L344.8 267.8L346.1 267.2L347.3 267.4L348.5 266.4L349.8 266.1L351.0 265.9L352.1 266.1L353.2 266.6L354.3 266.6L355.5 266.8L356.6 267.2L357.7 267.5L358.8 268.0L360.0 267.4L361.1 268.1L362.3 267.5L363.5 266.7L364.6 266.6L365.8 266.4L366.9 266.1L368.1 265.6L369.2 266.7L370.4 267.1L371.5 266.8L372.6 267.1L373.8 267.0L374.9 267.3L376.0 267.8L377.2 268.1L378.3 269.0L379.4 267.9L380.6 267.5L381.7 268.2L382.9 267.5L384.0 266.8L385.2 266.9L386.3 266.1L387.5 266.3L388.6 266.5L389.8 266.8L391.0 267.0L392.2 266.9L393.3 267.5L394.5 267.6L395.7 268.7L396.9 268.8L398.0 268.8L399.1 267.9L400.3 267.5L401.4 267.8L402.5 267.6L403.8 267.8L405.1 268.1L406.4 268.4L407.7 268.4" fill="none" stroke="#efc857" stroke-width="3.1" stroke-linejoin="round" stroke-linecap="round"/>
<circle cx="407.9" cy="269.6" r="8" fill="#000" opacity=".05"/>
<circle cx="407.9" cy="269.3" r="7.5" fill="#000" opacity=".09"/>
<circle cx="407.9" cy="268.5" r="7.2" fill="#fff"/>
<circle cx="407.9" cy="268.5" r="5.4" fill="#000"/>

<!-- sensor icons -->
<g fill="#cdd0d6">
<path d="M494.500 162C496 165 498 167.500 498 170.300A3.500 3.500 0 0 1 491 170.300C491 167.500 493 165 494.500 162Z"/>
<rect x="498.400" y="164.200" width="3" height=".9"/><rect x="499.800" y="166.900" width="2.800" height=".9"/><rect x="499.800" y="169.400" width="3" height=".9"/><rect x="499.800" y="172" width="3" height=".9"/>
<!-- thermometer -->
<rect x="585.300" y="161.200" width="1.400" height="10"/><circle cx="586" cy="172.600" r="2.700"/>
<rect x="586.700" y="162.500" width="1.600" height=".7"/><rect x="586.700" y="164.500" width="1.600" height=".7"/><rect x="586.700" y="166.500" width="1.600" height=".7"/>
<!-- pm2.5 -->
<circle cx="496.900" cy="280.900" r="4.500"/>
<!-- cloud AQI -->
<path d="M670.800 286.500A2.900 2.900 0 0 1 670.600 280.800A4.100 4.100 0 0 1 678.300 280.200A3.300 3.300 0 0 1 679.200 286.500Z"/><path d="M669 279.800A4.600 4.600 0 0 1 677.300 276.900A3.600 3.600 0 0 1 682 279.500" fill="none" stroke="#cdd0d6" stroke-width=".8"/>
</g>
<g fill="#cdd0d6"><path d="M500.99 282.23L503.18 282.94" stroke="#cdd0d6" stroke-width=".7"/><circle cx="503.46" cy="283.03" r=".8"/><path d="M499.43 284.38L500.78 286.24" stroke="#cdd0d6" stroke-width=".7"/><circle cx="500.96" cy="286.48" r=".8"/><path d="M496.90 285.20L496.90 287.50" stroke="#cdd0d6" stroke-width=".7"/><circle cx="496.90" cy="287.80" r=".8"/><path d="M494.37 284.38L493.02 286.24" stroke="#cdd0d6" stroke-width=".7"/><circle cx="492.84" cy="286.48" r=".8"/><path d="M492.81 282.23L490.62 282.94" stroke="#cdd0d6" stroke-width=".7"/><circle cx="490.34" cy="283.03" r=".8"/><path d="M492.81 279.57L490.62 278.86" stroke="#cdd0d6" stroke-width=".7"/><circle cx="490.34" cy="278.77" r=".8"/><path d="M494.37 277.42L493.02 275.56" stroke="#cdd0d6" stroke-width=".7"/><circle cx="492.84" cy="275.32" r=".8"/><path d="M496.90 276.60L496.90 274.30" stroke="#cdd0d6" stroke-width=".7"/><circle cx="496.90" cy="274.00" r=".8"/><path d="M499.43 277.42L500.78 275.56" stroke="#cdd0d6" stroke-width=".7"/><circle cx="500.96" cy="275.32" r=".8"/><path d="M500.99 279.57L503.18 278.86" stroke="#cdd0d6" stroke-width=".7"/><circle cx="503.46" cy="278.77" r=".8"/></g>
<!-- co2 cloud -->
<g fill="none" stroke="#cdd0d6" stroke-width=".9">
<path d="M671 174.300A3.900 3.900 0 0 1 670.200 166.600A5.600 5.600 0 0 1 680.600 165.200A4.600 4.600 0 0 1 681.400 174.300Z"/>
</g>
<text x="676" y="172.400" text-anchor="middle" font-size="5.400" fill="#cdd0d6">CO2</text>
<!-- tvoc -->
<g fill="none" stroke="#cdd0d6" stroke-width="1">
<circle cx="585.700" cy="280.700" r="2.600" stroke-width="1.200"/>
<circle cx="582.300" cy="275.400" r="1.100" stroke-width=".6"/><circle cx="592.400" cy="280.600" r="1.100" stroke-width=".6"/><circle cx="582.500" cy="285.900" r="1.100" stroke-width=".6"/>
</g>
<g fill="#cdd0d6"><circle cx="589.500" cy="276.400" r=".8"/><circle cx="580.100" cy="280.600" r=".7"/><circle cx="589.400" cy="285.100" r=".8"/></g>

<!-- gauge -->
<path d="M862.04 302.43A68.35 68.35 0 0 1 852.66 229.18" fill="none" stroke="#c55b54" stroke-width="16.3" stroke-linecap="round"/>
<path d="M967.52 215.49A68.35 68.35 0 0 1 966.76 302.43" fill="none" stroke="#c55b54" stroke-width="16.3" stroke-linecap="round"/>
<path d="M852.40 229.72A68.35 68.35 0 0 1 888.02 195.44" fill="none" stroke="#efc857" stroke-width="16.3" stroke-linecap="butt"/>
<path d="M930.94 192.18A68.35 68.35 0 0 1 967.89 215.95" fill="none" stroke="#efc857" stroke-width="16.3" stroke-linecap="butt"/>
<path d="M887.47 195.68A68.35 68.35 0 0 1 931.51 192.33" fill="none" stroke="#65bf6b" stroke-width="16.3" stroke-linecap="butt"/>
<circle cx="915.6" cy="258.7" r="6.2" fill="#e9e9ea"/><path d="M895.35 226.54L917.80 257.31L913.40 260.09Z" fill="#565a5f"/><circle cx="915.6" cy="258.7" r="3.1" fill="#fff" stroke="#565a5f" stroke-width="1.6"/>
<g font-size="6.400" fill="#9a9fa5" text-anchor="middle">
<text x="866.500" y="272">Bad</text><text x="882.500" y="225.100">Fair</text><text x="910.600" y="210.800">Good</text><text x="937.700" y="219.200">Fair</text><text x="962.800" y="265">Bad</text>
</g>

<!-- blobs -->
<use href="#blob"/>
<use href="#blob" x="466"/>
</svg>
</body></html>
